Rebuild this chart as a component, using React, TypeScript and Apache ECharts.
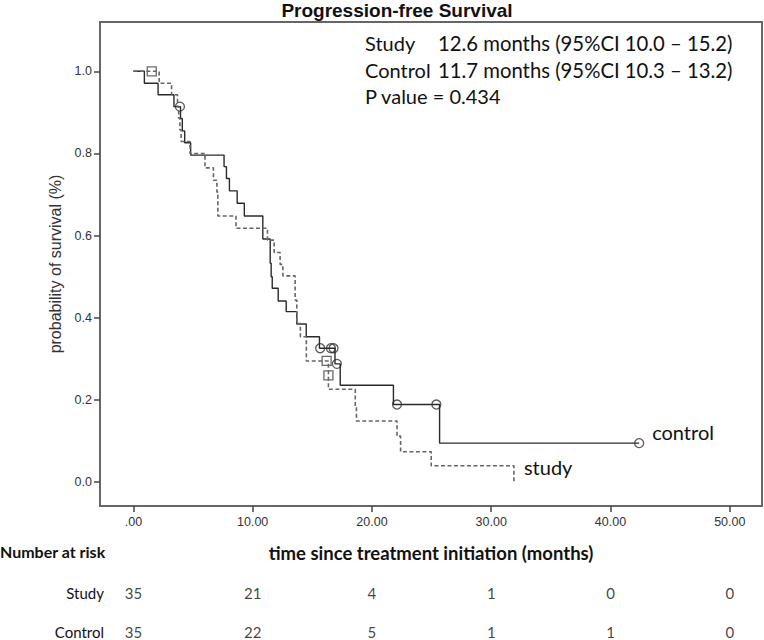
import React, { useEffect, useRef } from "react";
import * as echarts from "echarts";

// Kaplan-Meier steps: [time (months), survival after event]
const controlSteps: [number, number][] = [
  [0, 1.0], [0.92, 0.971], [2.07, 0.943], [3.4, 0.914], [3.95, 0.885], [4.1, 0.855],
  [4.3, 0.826], [4.8, 0.796], [7.6, 0.768], [7.8, 0.739], [8.05, 0.709], [8.7, 0.679],
  [9.3, 0.648], [10.85, 0.592], [11.47, 0.533], [11.55, 0.5], [11.64, 0.472],
  [12.14, 0.441], [12.81, 0.415], [13.7, 0.385], [14.49, 0.354], [15.6, 0.326],
  [16.9, 0.288], [17.34, 0.236], [21.8, 0.189], [25.67, 0.095], [42.4, 0.095],
];
const studySteps: [number, number][] = [
  [0, 1.0], [2.16, 0.971], [3.2, 0.943], [3.7, 0.914], [3.8, 0.886], [3.9, 0.857],
  [4.0, 0.829], [4.75, 0.8], [6.0, 0.765], [6.71, 0.735], [7.0, 0.706], [7.08, 0.648],
  [8.6, 0.618], [11.24, 0.589], [11.8, 0.559], [12.3, 0.53], [12.53, 0.502],
  [13.56, 0.443], [13.7, 0.386], [14.0, 0.354], [14.5, 0.295], [16.35, 0.226],
  [18.6, 0.183], [18.7, 0.149], [22.1, 0.112], [22.4, 0.074], [24.97, 0.04], [31.9, 0.0],
];
const controlCensored: [number, number][] = [
  [3.9, 0.914], [15.66, 0.326], [16.56, 0.326], [16.78, 0.326], [17.06, 0.288],
  [22.1, 0.189], [25.4, 0.189], [42.4, 0.095],
];
const studyCensored: [number, number][] = [
  [1.54, 1.0], [16.2, 0.295], [16.35, 0.26],
];

const xTicks = [0, 10, 20, 30, 40, 50];
const yTicks = [0, 0.2, 0.4, 0.6, 0.8, 1.0];

const riskTimes = [0, 10, 20, 30, 40, 50];
const riskGroups = ["Study", "Control"];
const studyAtRisk = [35, 21, 4, 1, 0, 0];
const controlAtRisk = [35, 22, 5, 1, 1, 0];

const statNames = ["Study", "Control", "P value = 0.434"];
const statValues = ["12.6 months (95%CI 10.0 – 15.2)", "11.7 months (95%CI 10.3 – 13.2)", ""];

const titleText = "Progression-free Survival";
const xName = "time since treatment initiation (months)";
const yName = "probability of survival (%)";

const CAL = "Lato, 'Open Sans', sans-serif";
const ARIAL = "'Liberation Sans', Arial, sans-serif";

export default function App() {
  const ref = useRef<HTMLDivElement>(null);
  useEffect(() => {
    document.body.style.margin = "0";
    if (!ref.current) return;
    const chart = echarts.init(ref.current, undefined, { renderer: "svg" });

    const riskData: any[] = [];
    riskTimes.forEach((t, i) => {
      riskData.push([t, 0, studyAtRisk[i]]);
      riskData.push([t, 1, controlAtRisk[i]]);
    });

    const graphics: any[] = [
      {
        type: "text",
        x: 397,
        y: 10,
        style: {
          text: titleText,
          fontFamily: ARIAL,
          fontWeight: "bold",
          fontSize: 19,
          fill: "#111",
          align: "center",
          verticalAlign: "middle",
        },
      },
      {
        type: "text",
        x: 0,
        y: 551,
        style: {
          text: "Number at risk",
          fontFamily: CAL,
          fontWeight: "bold",
          fontSize: 16,
          fill: "#111",
          align: "left",
          verticalAlign: "middle",
        },
      },
    ];
    const lineY = [43, 69.5, 96];
    statNames.forEach((n, i) => {
      graphics.push({
        type: "text",
        x: 365,
        y: lineY[i],
        style: { text: n, fontFamily: CAL, fontSize: 20, fill: "#111", align: "left", verticalAlign: "middle" },
      });
      if (statValues[i]) {
        graphics.push({
          type: "text",
          x: 438,
          y: lineY[i],
          style: { text: statValues[i], fontFamily: CAL, fontSize: 20.3, fill: "#111", align: "left", verticalAlign: "middle" },
        });
      }
    });

    chart.setOption({
      animation: false,
      backgroundColor: "#fff",
      grid: [
        { left: 100, top: 22, width: 662, height: 484, show: true, borderColor: "#666", borderWidth: 2 },
        { left: 100, top: 593, width: 662, height: 39 },
      ],
      xAxis: [
        {
          type: "value",
          gridIndex: 0,
          min: -2.8,
          max: 52.7,
          axisLine: { show: false, onZero: false },
          splitLine: { show: false },
          axisTick: { show: true, customValues: xTicks, length: 6, lineStyle: { color: "#444", width: 1.5 } },
          axisLabel: {
            customValues: xTicks,
            formatter: (v: number) => (v === 0 ? ".00" : v.toFixed(2)),
            fontFamily: ARIAL,
            fontSize: 12.5,
            color: "#333",
            margin: 9,
          },
          name: xName,
          nameLocation: "middle",
          nameGap: 37,
          nameTextStyle: { fontFamily: CAL, fontWeight: "bold", fontSize: 18.5, color: "#111" },
        },
        { type: "value", gridIndex: 1, min: -2.8, max: 52.7, show: false },
      ],
      yAxis: [
        {
          type: "value",
          gridIndex: 0,
          min: -0.058,
          max: 1.12,
          axisLine: { show: false, onZero: false },
          splitLine: { show: false },
          axisTick: { show: true, customValues: yTicks, length: 6, lineStyle: { color: "#444", width: 1.5 } },
          axisLabel: {
            customValues: yTicks,
            formatter: (v: number) => v.toFixed(1),
            fontFamily: ARIAL,
            fontSize: 12.5,
            color: "#333",
            margin: 8,
          },
          name: yName,
          nameLocation: "middle",
          nameGap: 37,
          nameTextStyle: { fontFamily: ARIAL, fontSize: 16, color: "#333" },
        },
        {
          type: "category",
          gridIndex: 1,
          data: riskGroups,
          inverse: true,
          boundaryGap: false,
          axisLine: { show: false },
          axisTick: { show: false },
          splitLine: { show: false },
          axisLabel: { fontFamily: CAL, fontSize: 15, color: "#111", margin: -4 },
        },
      ],
      series: [
        {
          type: "line",
          name: "control",
          xAxisIndex: 0,
          yAxisIndex: 0,
          step: "end",
          data: controlSteps,
          symbol: "none",
          silent: true,
          lineStyle: { color: "#2a2a2a", width: 1.4 },
          endLabel: {
            show: true,
            formatter: "control",
            distance: 0,
            offset: [13, -11],
            fontFamily: CAL,
            fontSize: 20,
            color: "#111",
          },
        },
        {
          type: "line",
          name: "study",
          xAxisIndex: 0,
          yAxisIndex: 0,
          step: "end",
          data: studySteps,
          symbol: "none",
          silent: true,
          lineStyle: { color: "#666", width: 1.6, type: [4, 2.5] },
          endLabel: {
            show: true,
            formatter: "study",
            distance: 0,
            offset: [10, -15],
            fontFamily: CAL,
            fontSize: 20,
            color: "#111",
          },
        },
        {
          type: "scatter",
          xAxisIndex: 0,
          yAxisIndex: 0,
          data: controlCensored,
          symbol: "circle",
          symbolSize: 9,
          silent: true,
          itemStyle: { color: "rgba(0,0,0,0)", borderColor: "#333", borderWidth: 1.3 },
        },
        {
          type: "scatter",
          xAxisIndex: 0,
          yAxisIndex: 0,
          data: studyCensored,
          symbol: "rect",
          symbolSize: 9,
          silent: true,
          itemStyle: { color: "rgba(0,0,0,0)", borderColor: "#444", borderWidth: 1.3 },
        },
        {
          type: "scatter",
          xAxisIndex: 1,
          yAxisIndex: 1,
          data: riskData,
          symbolSize: 1,
          silent: true,
          itemStyle: { color: "rgba(0,0,0,0)" },
          label: {
            show: true,
            position: "inside",
            formatter: (p: any) => String(p.value[2]),
            fontFamily: CAL,
            fontSize: 15,
            color: "#111",
          },
        },
      ],
      graphic: graphics,
    });
    return () => chart.dispose();
  }, []);
  return <div ref={ref} style={{ width: 764, height: 640 }} />;
}
